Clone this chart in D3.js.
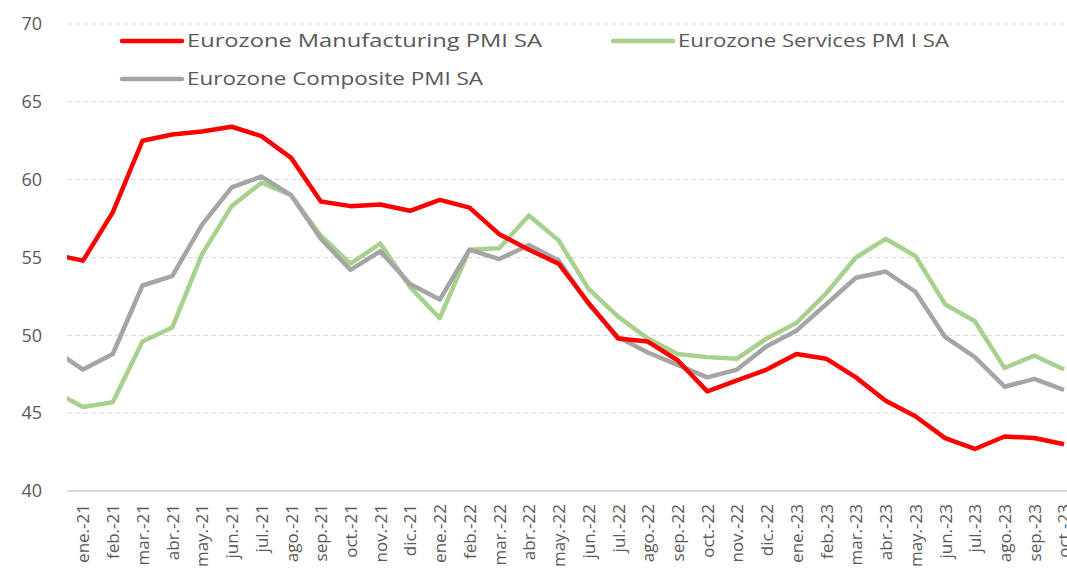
<!DOCTYPE html>
<html>
<head>
<meta charset="utf-8">
<script src="https://cdn.jsdelivr.net/npm/d3@7"></script>
<style>
  body { margin: 0; background: #fff; }
  svg { display: block; font-family: "Open Sans", sans-serif; }
</style>
</head>
<body>
<div id="chart"></div>
<script>
// months (first one sits left of the visible plot area and is clipped)
var months = ["dic.-20",
  "ene.-21","feb.-21","mar.-21","abr.-21","may.-21","jun.-21","jul.-21","ago.-21","sep.-21","oct.-21","nov.-21","dic.-21",
  "ene.-22","feb.-22","mar.-22","abr.-22","may.-22","jun.-22","jul.-22","ago.-22","sep.-22","oct.-22","nov.-22","dic.-22",
  "ene.-23","feb.-23","mar.-23","abr.-23","may.-23","jun.-23","jul.-23","ago.-23","sep.-23","oct.-23"];

var manufacturing = [55.2,
  54.8,57.9,62.5,62.9,63.1,63.4,62.8,61.4,58.6,58.3,58.4,58.0,
  58.7,58.2,56.5,55.5,54.6,52.1,49.8,49.6,48.4,46.4,47.1,47.8,
  48.8,48.5,47.3,45.8,44.8,43.4,42.7,43.5,43.4,43.0];

var services = [46.4,
  45.4,45.7,49.6,50.5,55.2,58.3,59.8,59.0,56.4,54.6,55.9,53.1,
  51.1,55.5,55.6,57.7,56.1,53.0,51.2,49.8,48.8,48.6,48.5,49.8,
  50.8,52.7,55.0,56.2,55.1,52.0,50.9,47.9,48.7,47.8];

var composite = [49.1,
  47.8,48.8,53.2,53.8,57.1,59.5,60.2,59.0,56.2,54.2,55.4,53.3,
  52.3,55.5,54.9,55.8,54.8,52.0,49.9,48.9,48.1,47.3,47.8,49.3,
  50.3,52.0,53.7,54.1,52.8,49.9,48.6,46.7,47.2,46.5];

var yTicks = [40, 45, 50, 55, 60, 65, 70];

var seriesNames = ["Eurozone Manufacturing PMI SA", "Eurozone Services PM I SA", "Eurozone Composite PMI SA"];
var seriesColors = ["#ff0000", "#a9d18e", "#a5a5a5"];

var width = 1067, height = 573;
var plotLeft = 67, plotRight = 1067, plotTop = 24, plotBottom = 491;

var svg = d3.select("#chart").append("svg")
    .attr("width", width)
    .attr("height", height);

var x = d3.scalePoint()
    .domain(months)
    .range([53.3, 1064]);

var y = d3.scaleLinear()
    .domain([40, 70])
    .range([plotBottom, plotTop]);

// gridlines
svg.append("g")
  .selectAll("line")
  .data(yTicks.filter(function(d) { return d > 40; }))
  .enter().append("line")
    .attr("x1", plotLeft).attr("x2", plotRight)
    .attr("y1", function(d) { return y(d); })
    .attr("y2", function(d) { return y(d); })
    .attr("stroke", "#d9d9d9")
    .attr("stroke-width", 1)
    .attr("stroke-dasharray", "5,3");

// y axis labels
var yAxis = svg.append("g")
    .attr("transform", "translate(" + plotLeft + ",0)")
    .call(d3.axisLeft(y).tickValues(yTicks).tickSize(0).tickPadding(25));
yAxis.select(".domain").remove();
yAxis.selectAll("text")
    .attr("fill", "#595959")
    .style("font-size", "18px")
    .style("font-family", "'Open Sans', sans-serif");

// x axis
var xAxis = svg.append("g")
    .attr("transform", "translate(0," + plotBottom + ")")
    .call(d3.axisBottom(x).tickValues(months.slice(1)).tickSize(0));
xAxis.select(".domain").remove();
xAxis.selectAll("text")
    .attr("transform", "rotate(-90)")
    .attr("text-anchor", "end")
    .attr("x", -13)
    .attr("y", 0)
    .attr("dy", "0.35em")
    .attr("fill", "#595959")
    .style("font-size", "17px")
    .style("font-family", "'Open Sans', sans-serif");

svg.append("line")
    .attr("x1", plotLeft).attr("x2", plotRight)
    .attr("y1", plotBottom).attr("y2", plotBottom)
    .attr("stroke", "#d9d9d9")
    .attr("stroke-width", 2);

// clip for the lines
svg.append("clipPath").attr("id", "plotclip")
  .append("rect")
    .attr("x", plotLeft).attr("y", 0)
    .attr("width", plotRight - plotLeft).attr("height", height);

var line = d3.line()
    .x(function(d, i) { return x(months[i]); })
    .y(function(d) { return y(d); });

var lines = svg.append("g").attr("clip-path", "url(#plotclip)");
[services, composite, manufacturing].forEach(function(s) {
  var idx = s === manufacturing ? 0 : (s === services ? 1 : 2);
  lines.append("path")
    .datum(s)
    .attr("d", line)
    .attr("fill", "none")
    .attr("stroke", seriesColors[idx])
    .attr("stroke-width", 4.5)
    .attr("stroke-linejoin", "round");
});

// legend
var legendPos = [[122, 41, 355], [613, 41, 271], [122, 79, 296]];
legendPos.forEach(function(p, i) {
  var g = svg.append("g").attr("transform", "translate(" + p[0] + "," + p[1] + ")");
  g.append("line")
    .attr("x1", 0).attr("x2", 60)
    .attr("y1", 0).attr("y2", 0)
    .attr("stroke", seriesColors[i])
    .attr("stroke-width", 4.5)
    .attr("stroke-linecap", "round");
  g.append("text")
    .attr("x", 65)
    .attr("y", 6)
    .attr("fill", "#595959")
    .style("font-size", "19px")
    .attr("textLength", p[2])
    .attr("lengthAdjust", "spacingAndGlyphs")
    .text(seriesNames[i]);
});
</script>
</body>
</html>
